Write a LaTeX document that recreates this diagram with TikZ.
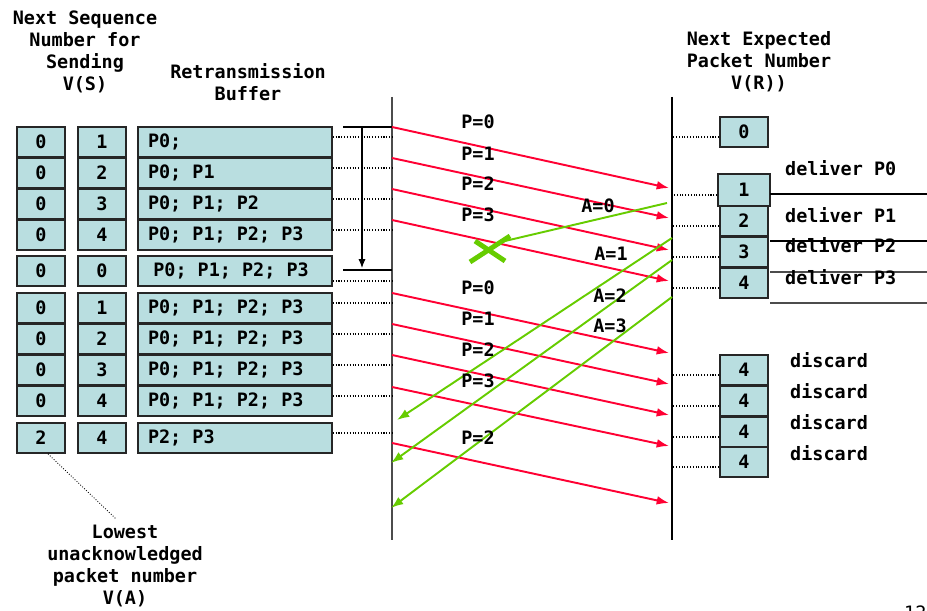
\documentclass[tikz,border=0pt]{standalone}
\usepackage{fontspec}
\setmainfont{DejaVu Sans Mono}
\usetikzlibrary{arrows.meta}

\definecolor{cellblue}{RGB}{185,222,224}
\definecolor{pktred}{RGB}{255,0,51}
\definecolor{ackgreen}{RGB}{102,204,0}
% one full character cell of the mono font
\newcommand\gap{\hspace{0.602em}}

\begin{document}
\begin{tikzpicture}[x=0.02cm,y=-0.02cm,
    every node/.style={font=\fontsize{10.5}{12.5}\selectfont\bfseries}]
  \tikzset{cell/.style = {draw=black!85,fill=cellblue,line width=1pt,minimum width=0.96cm,minimum height=0.6cm,inner sep=0pt}}
  \tikzset{bufcell/.style = {cell,text width=3.48cm,inner xsep=0.2cm,align=left}}
  \tikzset{leader/.style = {densely dotted,line width=0.6pt}}
  \tikzset{pkt/.style = {-{Latex[length=7pt,width=5pt]},pktred,line width=1.1pt}}
  \tikzset{ack/.style = {-{Latex[length=7pt,width=5pt]},ackgreen,line width=1.1pt}}

  \useasboundingbox (0,0) rectangle (927,611);

  % headings
  \node[align=center] (vs-head) at (85,52) {Next Sequence\\Number for\\Sending\\V(S)};
  \node[align=center] (buf-head) at (248,82) {Retransmission\\Buffer};
  \node[align=center] (vr-head) at (759,62) {Next Expected\\Packet Number\\V(R))};
  \node[align=center] (va-head) at (125,566) {Lowest\\unacknowledged\\packet number\\V(A)};

  % sender and receiver time lines
  \coordinate (snd-top) at (392,97);
  \coordinate (snd-bot) at (392,540);
  \coordinate (rcv-top) at (672,97);
  \coordinate (rcv-bot) at (672,540);
  \draw[black!70,line width=1.6pt] (snd-top) -- (snd-bot);
  \draw[line width=0.8pt] (rcv-top) -- (rcv-bot);

  % sender state: V(A), V(S), buffer
  \foreach \n/\y/\o/\a/\s/\b in {1/142/0.1cm/0/1/{P0;}, 2/173/0.1cm/0/2/{P0;\gap P1},
      3/204/0.1cm/0/3/{P0;\gap P1;\gap P2}, 4/235/0.1cm/0/4/{P0;\gap P1;\gap P2;\gap P3},
      5/271/-0.2cm/0/0/{\hspace{3pt}P0;\gap P1;\gap P2;\gap P3}, 6/308/0.1cm/0/1/{P0;\gap P1;\gap P2;\gap P3},
      7/339/0.1cm/0/2/{P0;\gap P1;\gap P2;\gap P3}, 8/370/0.1cm/0/3/{P0;\gap P1;\gap P2;\gap P3},
      9/401/0.1cm/0/4/{P0;\gap P1;\gap P2;\gap P3}, 10/438/0.1cm/2/4/{P2;\gap P3}}
  {
    \node[cell] (va\n) at (41,\y) {\a};
    \node[cell] (vs\n) at (102,\y) {\s};
    \node[bufcell] (buf\n) at (235,\y) {\b};
    \draw[leader] ([yshift=\o]buf\n.east) -- ++(60,0);
  }
  \draw[leader,line width=0.5pt] ([xshift=0.14cm]va10.south) -- ([xshift=-0.18cm]va-head.north);

  % timeout
  \coordinate (timer-start) at (343,127);
  \coordinate (timer-end) at (343,270);
  \draw[line width=0.6pt] (timer-start) -- (392,127);
  \draw[line width=0.6pt] (timer-end) -- (392,270);
  \draw[-{Latex[length=5pt,width=4pt]},line width=0.6pt] (362,127) -- (362,268);

  % packets
  \foreach \n/\a/\b in {1/127/188, 2/158/218, 3/189/250, 4/220/281,
      5/293/353, 6/324/384, 7/355/415, 8/387/446, 9/443/503}
  {
    \coordinate (p\n-out) at (392,\a);
    \coordinate (p\n-in) at (669,\b);
    \draw[pkt] (p\n-out) -- (p\n-in);
  }

  % acknowledgements
  \coordinate (lost) at (489,249);
  \coordinate (a0-out) at (667,203);
  \coordinate (a0-in) at (505,241);
  \draw[ackgreen,line width=1.1pt] (a0-out) -- (a0-in);
  \draw[ackgreen,line width=2.8pt] (lost) +(-19,13) -- +(21,-13);
  \draw[ackgreen,line width=2.8pt] (lost) +(-14,-8) -- +(16,12);
  \foreach \n/\a/\x/\b in {1/238/397/420, 2/260/391/463, 3/297/391/508}
  {
    \coordinate (a\n-out) at (672,\a);
    \coordinate (a\n-in) at (\x,\b);
    \draw[ack] (a\n-out) -- (a\n-in);
  }

  % labels on the lines
  \foreach \t/\y in {0/122, 1/154, 2/184, 3/215, 0/288, 1/319, 2/350, 3/381, 2/438}
    \node at (478,\y) {P=\t};
  \node (ack0) at (598,206) {A=0};
  \node (ack1) at (611,254) {A=1};
  \node (ack2) at (610,296) {A=2};
  \node (ack3) at (610,326) {A=3};

  % receiver state V(R)
  \node[cell] (vr0) at (744,132) {0};
  \foreach \n/\y in {2/221, 3/252, 4/283}
    \node[cell] (vr\n) at (744,\y) {\n};
  \node[cell,minimum width=1.04cm,minimum height=0.64cm] (vr1) at (744,190) {1};
  \foreach \n/\y in {1/370, 2/401, 3/432, 4/462}
    \node[cell] (dc\n) at (744,\y) {4};
  \foreach \b in {vr0, vr1, vr2, vr3, vr4, dc1, dc2, dc3, dc4}
    \draw[leader] ([yshift=-0.1cm]\b.west) -- ++(-47,0);

  \foreach \y/\c in {194/black, 241/black, 272/black!70, 303/black!70}
    \draw[\c,line width=0.8pt] (770,\y) -- (927,\y);
  \foreach \y/\t in {168/P0, 215/P1, 245/P2, 277/P3}
    \node[anchor=west] at (779,\y) {deliver \t};
  \foreach \y in {360, 391, 422, 453}
    \node[anchor=west] at (784,\y) {discard};

  \node[anchor=north west,font=\fontsize{10.5}{12.5}\selectfont] (pageno) at (898,600) {12};
\end{tikzpicture}
\end{document}
